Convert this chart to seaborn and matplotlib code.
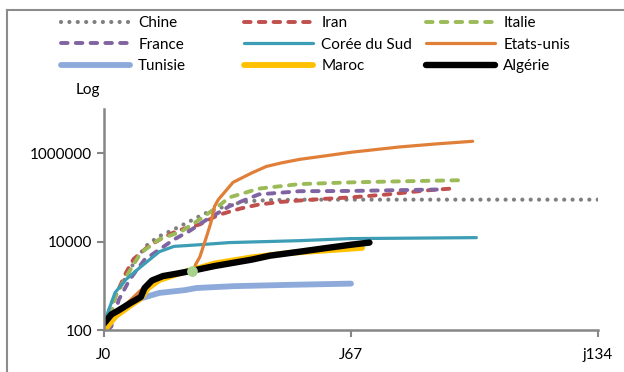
import matplotlib
matplotlib.use("Agg")
import matplotlib.pyplot as plt
import seaborn as sns
from matplotlib.lines import Line2D

# days since first case (J0) and cumulative cases
chine_j = [0, 2, 4, 6, 8, 10, 12, 15, 19, 23, 27, 31, 35, 40, 45, 55, 134]
chine = [125, 400, 800, 1600, 3200, 5600, 8900, 13200, 19000, 28000, 42000, 56000, 71000, 83000, 87000, 89000, 89000]

iran_j = [1, 3, 6, 8, 12, 16, 20, 26, 31, 37, 42, 48, 53, 60, 67, 77, 88, 94]
iran = [100, 560, 2000, 4000, 7800, 12300, 17800, 24500, 40000, 56000, 69000, 79000, 85000, 93000, 100000, 117000, 145000, 158000]

italie_j = [1, 3, 6, 10, 15, 21, 26, 31, 34, 42, 53, 67, 78, 97]
italie = [100, 560, 1600, 5600, 11200, 17000, 32000, 63000, 100000, 158000, 200000, 219000, 229000, 245000]

france_j = [1, 2, 4, 7, 11, 15, 19, 23, 28, 34, 42, 53, 67, 78, 91]
france = [100, 120, 480, 1400, 3900, 6600, 11200, 17000, 32000, 63000, 117000, 138000, 140000, 145000, 151000]

coree_j = [0, 1, 3, 6, 10, 15, 19, 26, 34, 53, 67, 85, 101]
coree = [160, 245, 700, 1400, 2700, 5900, 7800, 8500, 9500, 10500, 11700, 12000, 12300]

usa_j = [0, 5, 10, 15, 20, 24, 25, 26, 28, 29, 30, 31, 35, 40, 44, 48, 53, 60, 67, 80, 90, 100]
usa = [100, 320, 800, 1400, 1900, 2100, 3200, 4500, 14500, 27000, 63000, 89000, 219000, 355000, 500000,
       600000, 724000, 870000, 1050000, 1380000, 1620000, 1860000]

tunisie_j = [0, 3, 6, 10, 15, 22, 25, 35, 50, 67]
tunisie = [100, 200, 350, 520, 690, 800, 890, 980, 1050, 1120]

maroc_j = [0, 3, 7, 10, 12, 15, 20, 24, 30, 40, 50, 60, 70]
maroc = [95, 200, 350, 520, 890, 1350, 1860, 2300, 3200, 4400, 5500, 6300, 7200]

algerie_j = [0, 2, 4, 7, 10, 11, 13, 16, 20, 24, 30, 40, 45, 53, 60, 67, 72]
algerie = [140, 225, 280, 400, 560, 890, 1320, 1660, 1900, 2200, 2800, 3900, 4800, 5900, 7100, 8500, 9500]

point_j = [24]
point = [2100]

xticks = [0, 67, 134]
xlabels = ["J0", "J67", "j134"]
yticks = [100, 10000, 1000000]

plt.rcParams['font.family'] = ['Lato', 'DejaVu Sans']

fig = plt.figure(figsize=(6.24, 3.72), dpi=100)
ax = fig.add_axes([104 / 624, 1 - 330 / 372, 494 / 624, 221 / 372])

dash = (0, (1.7, 2.1))
series = [
    ("Chine", chine_j, chine, "#7f7f7f", 3.0, (0, (0.01, 2.0))),
    ("Iran", iran_j, iran, "#c0504d", 2.8, dash),
    ("Italie", italie_j, italie, "#9bbb59", 2.8, dash),
    ("France", france_j, france, "#8064a2", 2.8, dash),
    ("Corée du Sud", coree_j, coree, "#3c9db5", 2.3, "-"),
    ("Etats-unis", usa_j, usa, "#e07f38", 2.3, "-"),
    ("Tunisie", tunisie_j, tunisie, "#8eaadb", 4.2, "-"),
    ("Maroc", maroc_j, maroc, "#ffc000", 4.2, "-"),
    ("Algérie", algerie_j, algerie, "#000000", 4.6, "-"),
]

handles = []
for name, xs, ys, col, lw, ls in series:
    sns.lineplot(x=xs, y=ys, ax=ax, color=col, linewidth=lw, linestyle=ls)
    ln = ax.get_lines()[-1]
    ln.set_dash_capstyle("round")
    ln.set_solid_capstyle("round")
    h = Line2D([], [], color=col, linewidth=lw, linestyle=ls,
               dash_capstyle="round", solid_capstyle="round")
    handles.append((h, name))

sns.scatterplot(x=point_j, y=point, ax=ax, color="#a9d18e", s=60, edgecolor="none", zorder=5)

ax.set_yscale("log")
ax.set_ylim(100, 1e7)
ax.set_xlim(0, 134)
ax.set_xticks(xticks)
ax.set_xticklabels(xlabels)
ax.set_yticks(yticks)
ax.set_yticklabels([str(v) for v in yticks])
ax.minorticks_off()
ax.tick_params(axis="both", colors="#868686", labelcolor="black", labelsize=11,
               length=5, width=1.5, direction="out")
ax.tick_params(axis="x", pad=8)
for s in ["top", "right"]:
    ax.spines[s].set_visible(False)
for s in ["left", "bottom"]:
    ax.spines[s].set_color("#868686")
    ax.spines[s].set_linewidth(1.8)

# legend: three columns placed like the original
cols = [[0, 3, 6], [1, 4, 7], [2, 5, 8]]
xpos = [61, 244, 426]
for c, xp in zip(cols, xpos):
    fig.legend([handles[i][0] for i in c], [handles[i][1] for i in c],
               loc="upper left", bbox_to_anchor=(xp / 624, 1 - 16 / 372),
               frameon=False, fontsize=11, handlelength=4.5, handletextpad=0.55,
               labelspacing=0.5, borderaxespad=0, borderpad=0)

fig.text(76 / 624, 1 - 90 / 372, "Log", fontsize=11, va="center", ha="left")

# chart frame
fig.add_artist(Line2D([7 / 624, 1], [1 - 10 / 372, 1 - 10 / 372], color="#8c8c8c", lw=1.5))
fig.add_artist(Line2D([7 / 624, 7 / 624], [0, 1 - 10 / 372], color="#8c8c8c", lw=1.5))

fig.savefig("out.png", dpi=100)
